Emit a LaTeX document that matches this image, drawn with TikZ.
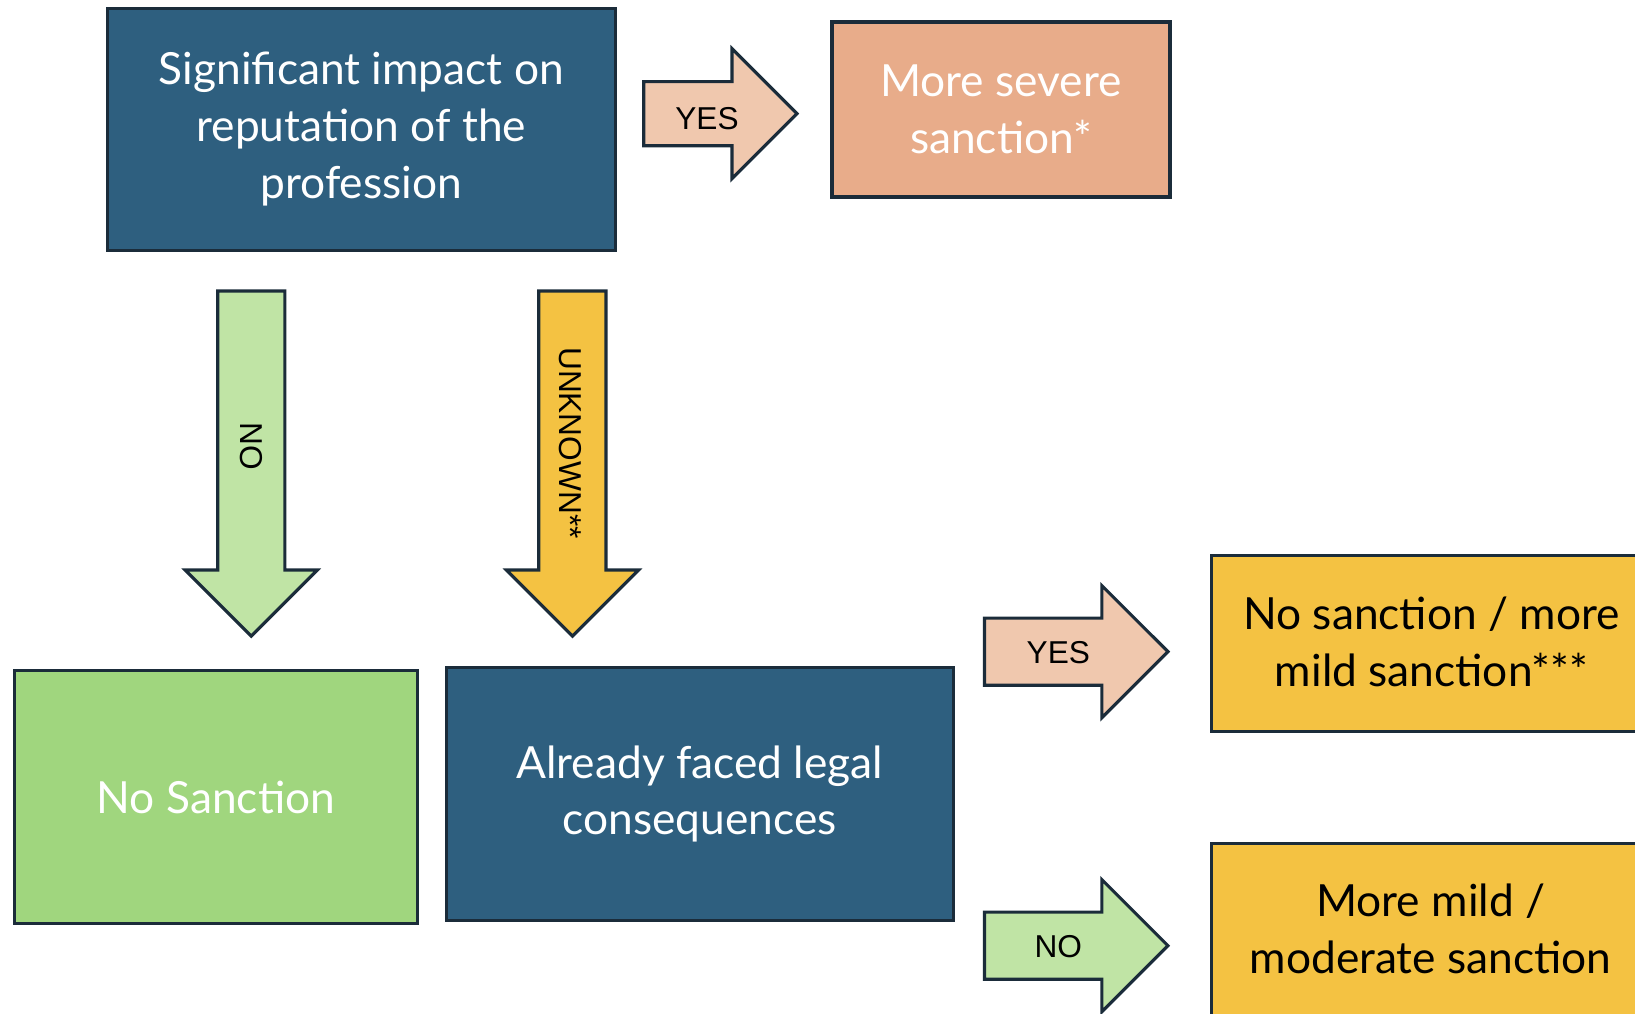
\documentclass[tikz,border=0pt]{standalone}
\usepackage{fontspec}
\setmainfont{Lato}
\newfontfamily\arrowfamily{Liberation Sans}
\usetikzlibrary{shapes.arrows,positioning}

\definecolor{navy}{HTML}{2E5F7F}
\definecolor{edge}{HTML}{1B2C3A}
\definecolor{salmon}{HTML}{E8AC8A}
\definecolor{lightsalmon}{HTML}{F0C8AE}
\definecolor{grass}{HTML}{A0D67E}
\definecolor{lightgrass}{HTML}{C0E4A5}
\definecolor{gold}{HTML}{F4C242}

\tikzset{
	box/.style={draw=edge, line width=0.9pt, rectangle, inner sep=0pt, align=center,
		font=\fontsize{12.6}{16.2}\selectfont},
	blockarrow/.style={single arrow, draw=edge, line width=0.9pt, inner xsep=0pt,
		inner ysep=0.32cm, text height=0pt, text depth=0pt,
		single arrow head extend=0.325cm, single arrow tip angle=90},
	arrowtext/.style={inner sep=0pt, font=\arrowfamily\fontsize{9}{10}\selectfont},
}

\begin{document}
\begin{tikzpicture}
	% Fix the frame of the picture
	\useasboundingbox (0,0) rectangle (16.35,-10.14);
	\clip (0,0) rectangle (16.35,-10.14);
	% Draw boxes
	\node[box, fill=navy, text=white, minimum width=5.08cm, minimum height=2.42cm] (impact) at (3.613,-1.293) {Significant impact on\\reputation of the\\profession};
	\node[box, fill=salmon, text=white, minimum width=3.38cm, minimum height=1.75cm] (severe) at (10.01,-1.095) {More severe\\sanction*};
	\node[box, fill=grass, text=white, minimum width=4.03cm, minimum height=2.53cm] (nosanction) at (2.159,-7.972) {No Sanction};
	\node[box, fill=navy, text=white, minimum width=5.07cm, minimum height=2.53cm] (legal) at (6.997,-7.94) {Already faced legal\\consequences};
	\node[box, fill=gold, minimum width=4.88cm, minimum height=1.76cm] (mild) at (14.558,-6.439) {};
	\node[box, fill=gold, minimum width=4.88cm, minimum height=2.17cm] (moderate) at (14.558,-9.518) {};
	% Texts of the cut boxes
	\node[align=center, font=\fontsize{12.6}{16.2}\selectfont] (mildtext) at (14.316,-6.423) {No sanction / more\\mild sanction***};
	\node[align=center, font=\fontsize{12.6}{16.2}\selectfont] (moderatetext) at (14.306,-9.29) {More mild /\\moderate sanction};
	% Draw block arrows
	\node[blockarrow, fill=lightsalmon, minimum height=1.533cm, inner ysep=0.305cm, single arrow head extend=0.33cm] (yesone) at (7.043,-1.137) {};
	\node[blockarrow, fill=lightgrass, minimum height=3.451cm, rotate=-90] (nodown) at (2.513,-4.468) {};
	\node[blockarrow, fill=gold, minimum height=3.451cm, rotate=-90] (unknown) at (5.724,-4.468) {};
	\node[blockarrow, fill=lightsalmon, minimum height=1.835cm] (yestwo) at (10.594,-6.517) {};
	\node[blockarrow, fill=lightgrass, minimum height=1.835cm] (noright) at (10.594,-9.457) {};
	% Texts of the block arrows
	\node[arrowtext] (yesonetext) at (7.07,-1.185) {YES};
	\node[arrowtext, rotate=-90] (nodowntext) at (2.515,-4.46) {NO};
	\node[arrowtext, rotate=-90] (unknowntext) at (5.70,-4.43) {UNKNOWN**};
	\node[arrowtext] (yestwotext) at (10.583,-6.527) {YES};
	\node[arrowtext] (norighttext) at (10.583,-9.468) {NO};
\end{tikzpicture}
\end{document}
